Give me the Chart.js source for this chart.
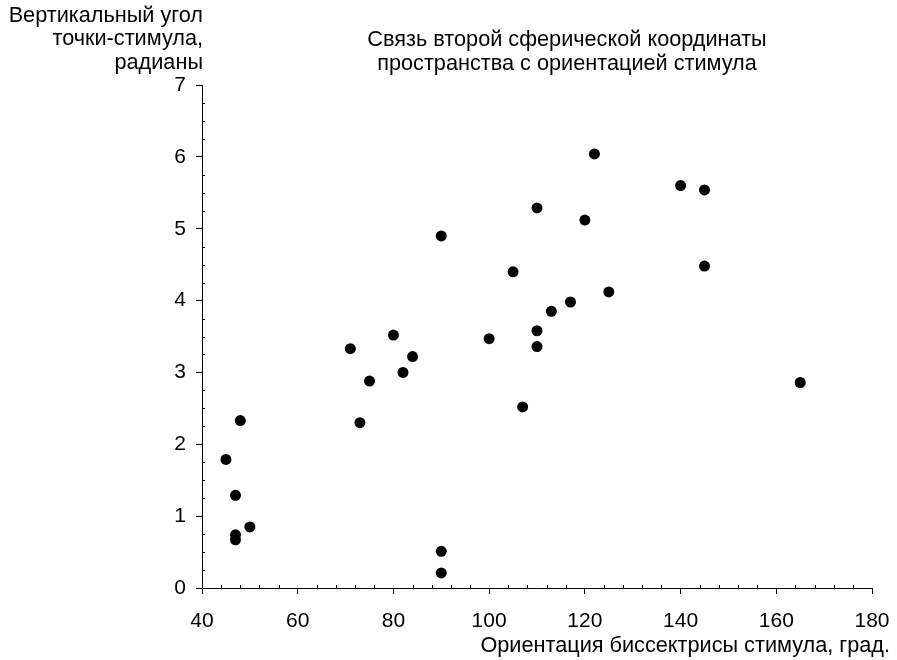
<!DOCTYPE html>
<html>
<head>
<meta charset="utf-8">
<script src="https://cdn.jsdelivr.net/npm/chart.js@4/dist/chart.umd.min.js"></script>
<style>
  html, body { margin: 0; padding: 0; background: #fff; }
  #wrap { width: 897px; height: 660px; }
</style>
</head>
<body>
<div id="wrap"><canvas id="chart"></canvas></div>
<script>
// orientation of the stimulus bisector, degrees
const orientation = [45, 48, 47, 47, 47, 50, 71, 73, 75, 80, 82, 84, 90, 90, 90,
  100, 105, 107, 110, 110, 110, 113, 117, 120, 122, 125, 140, 145, 145, 165]
// vertical angle of the stimulus point, radians
const verticalAngle = [1.79, 2.33, 1.29, 0.74, 0.67, 0.85, 3.33, 2.30, 2.88, 3.52, 3.00, 3.22, 4.90, 0.51, 0.21,
  3.47, 4.40, 2.52, 5.29, 3.58, 3.36, 3.85, 3.98, 5.12, 6.04, 4.12, 5.60, 5.54, 4.48, 2.86]

const titleLines = ["Связь второй сферической координаты", "пространства с ориентацией стимула"]
const yTitleLines = ["Вертикальный угол", "точки-стимула,", "радианы"]
const xTitle = "Ориентация биссектрисы стимула, град."

const FONT = "'Liberation Sans', Arial, Helvetica, sans-serif"

const points = orientation.map((x, i) => ({ x: x, y: verticalAngle[i] }))

// minor ticks drawn inside the plot, majors come from chart.js grid ticks
const minorTicks = {
  id: "minorTicks",
  afterDraw(chart) {
    const ctx = chart.ctx
    const xs = chart.scales.x
    const ys = chart.scales.y
    ctx.save()
    ctx.strokeStyle = "#000"
    ctx.lineWidth = 1
    ctx.beginPath()
    for (let v = xs.min; v <= xs.max; v += 4) {
      if (v % 20 === 0) continue
      const px = Math.round(xs.getPixelForValue(v)) + 0.5
      ctx.moveTo(px, ys.bottom)
      ctx.lineTo(px, ys.bottom - 3)
    }
    for (let v = ys.min; v <= ys.max; v += 0.25) {
      if (v % 1 === 0) continue
      const py = Math.round(ys.getPixelForValue(v)) + 0.5
      ctx.moveTo(xs.left, py)
      ctx.lineTo(xs.left + 3, py)
    }
    ctx.stroke()
    ctx.restore()
  }
}

const labels = {
  id: "labels",
  afterDraw(chart) {
    const ctx = chart.ctx
    ctx.save()
    ctx.fillStyle = "#000"
    ctx.font = "21.7px " + FONT
    ctx.textBaseline = "alphabetic"

    ctx.textAlign = "center"
    titleLines.forEach((t, i) => ctx.fillText(t, 567, 46 + i * 24))

    ctx.textAlign = "right"
    yTitleLines.forEach((t, i) => ctx.fillText(t, 203, 22 + i * 23.3))

    ctx.fillText(xTitle, 890, 652)
    ctx.restore()
  }
}

new Chart(document.getElementById("chart"), {
  type: "scatter",
  data: {
    datasets: [{
      data: points,
      backgroundColor: "#000",
      borderWidth: 0,
      pointRadius: 5.5,
      pointHoverRadius: 5.5
    }]
  },
  options: {
    responsive: true,
    maintainAspectRatio: false,
    animation: false,
    events: [],
    layout: { padding: { left: 0, right: 25, top: 85, bottom: 0 } },
    plugins: {
      legend: { display: false },
      tooltip: { enabled: false }
    },
    scales: {
      x: {
        type: "linear",
        min: 40,
        max: 180,
        afterFit: s => {
          s.height = 72
          s.paddingLeft = 0
          s.paddingRight = 0
        },
        border: { display: true, color: "#000", width: 1 },
        grid: { display: true, drawOnChartArea: false, drawTicks: true, tickLength: 6, color: "#000" },
        ticks: { stepSize: 20, color: "#000", padding: 15, font: { family: FONT, size: 21 } }
      },
      y: {
        type: "linear",
        min: 0,
        max: 7,
        afterFit: s => {
          s.width = 202
          s.paddingTop = 0
          s.paddingBottom = 0
        },
        border: { display: true, color: "#000", width: 1 },
        grid: { display: true, drawOnChartArea: false, drawTicks: true, tickLength: 6, color: "#000" },
        ticks: { stepSize: 1, color: "#000", padding: 10, font: { family: FONT, size: 21 } }
      }
    }
  },
  plugins: [minorTicks, labels]
})
</script>
</body>
</html>
